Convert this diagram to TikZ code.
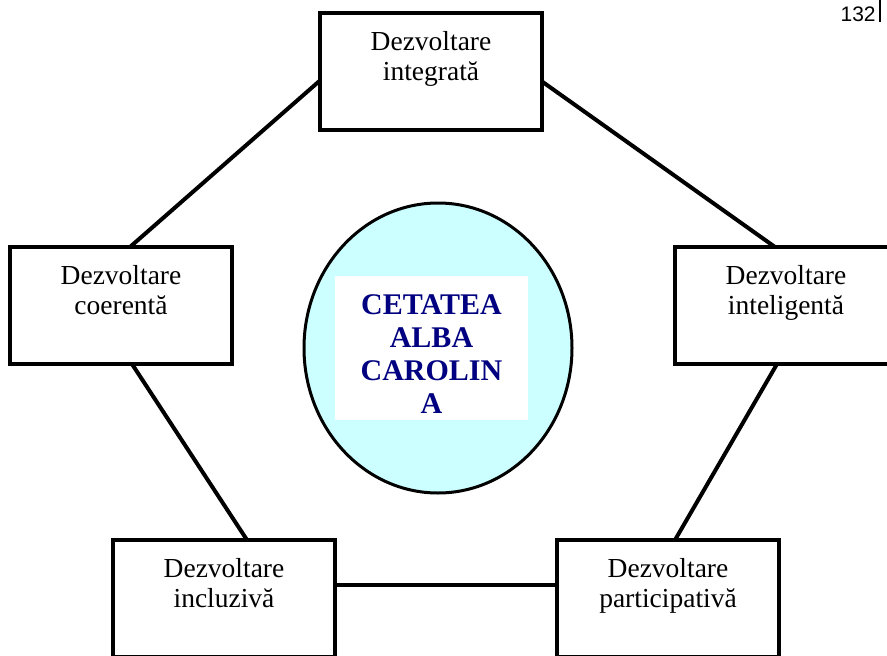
\documentclass[tikz,border=0pt]{standalone}
\usepackage{fontspec}
\setmainfont{Liberation Serif}
\newfontfamily\pagefont{Liberation Sans}
\usetikzlibrary{shapes.geometric}

\definecolor{cityfill}{RGB}{204,255,255}
\definecolor{citynavy}{RGB}{0,0,128}

\tikzset{every picture/.style={line width=0.75pt}}
\tikzset{
  devbox/.style={draw, line width=4.5pt, fill=white, inner sep=0pt, outer sep=0pt,
    text width=222pt, align=center, text height=37pt, text depth=80pt,
    font=\fontsize{27.5}{30}\selectfont},
  link/.style={line width=4pt}
}

\begin{document}
\begin{tikzpicture}[x=1pt,y=1pt,yscale=-1,xscale=1]
	\useasboundingbox (0,0) rectangle (887,656);
	\clip (0,0) rectangle (887,656);

	\node [devbox, anchor=north] (integ) at (431,13) {Dezvoltare\\integrată};
	\node [devbox, anchor=north] (coer) at (121,247) {Dezvoltare\\coerentă};
	\node [devbox, anchor=north] (intel) at (786,247) {Dezvoltare\\inteligentă};
	\node [devbox, anchor=north] (incl) at (224,540) {Dezvoltare\\incluzivă};
	\node [devbox, anchor=north] (part) at (668,540) {Dezvoltare\\participativă};

	% centre
	\node [ellipse, draw, line width=3pt, fill=cityfill, minimum width=268pt, minimum height=290pt] (city) at (438,348) {};
	\node [fill=white, inner sep=0pt, text width=193pt, align=center, text height=38pt, text depth=106pt,
	  font=\fontsize{30}{33}\selectfont\bfseries, text=citynavy, anchor=north] (name) at (431.5,276) {CETATEA\\ALBA\\CAROLIN\\A};

	\draw [link] ([yshift=9pt]integ.west) -- ([xshift=9pt]coer.north);
	\draw [link] ([yshift=10pt]integ.east) -- ([xshift=-11pt]intel.north);
	\draw [link] ([xshift=11pt]coer.south) -- ([xshift=23pt]incl.north);
	\draw [link] ([xshift=-9pt]intel.south) -- ([xshift=7pt]part.north);
	\draw [link] ([yshift=-13.5pt]incl.east) -- ([yshift=-13.5pt]part.west);

	% page number
	\node [anchor=base east, inner sep=0pt, font=\pagefont\fontsize{21}{24}\selectfont] (pagenum) at (876,21) {132};
	\coordinate (rule) at (880,0);
	\draw [line width=1.2pt] (rule) -- ++(0,22);
\end{tikzpicture}
\end{document}
